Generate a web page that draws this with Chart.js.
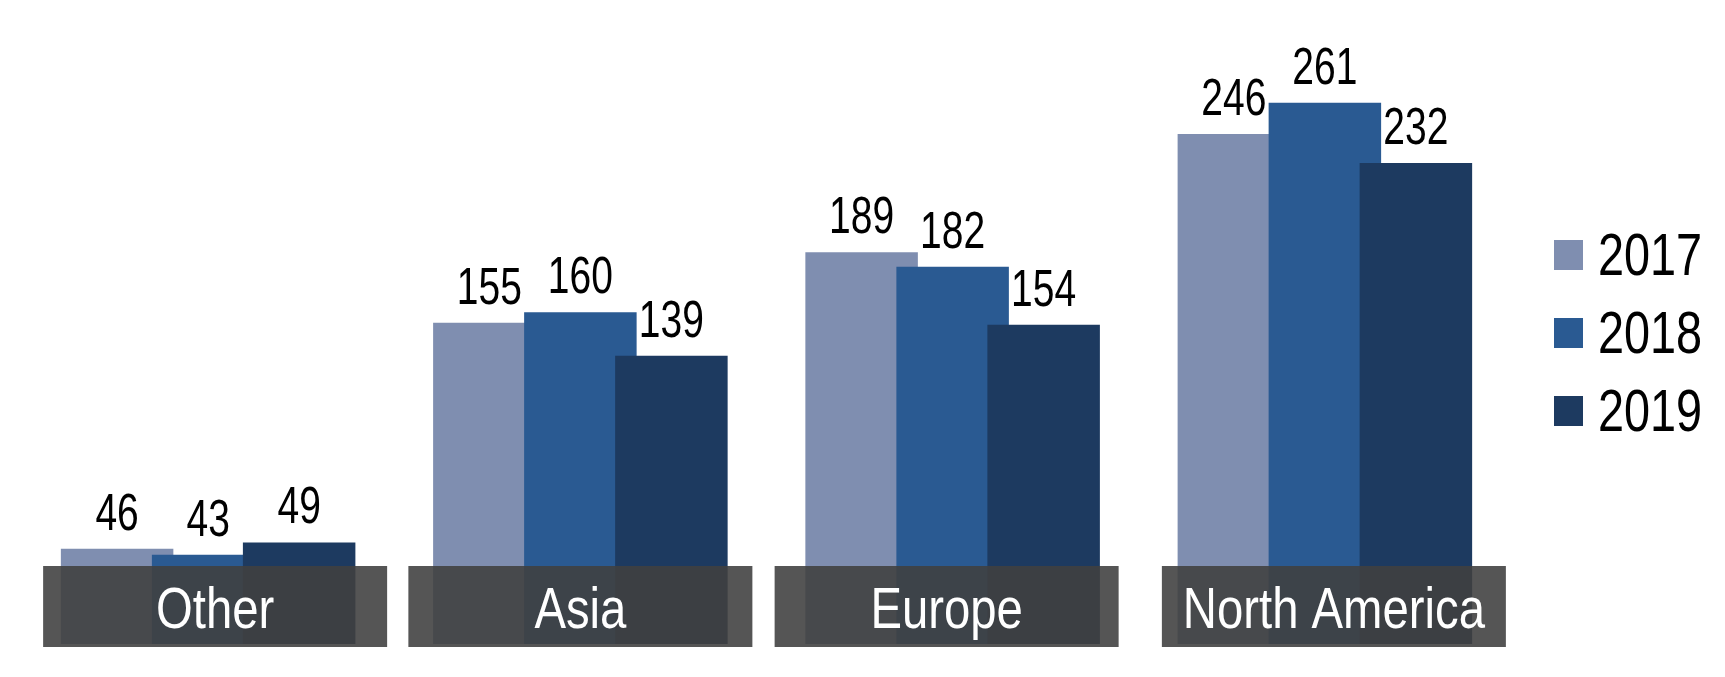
<!DOCTYPE html>
<html>
<head>
<meta charset="utf-8">
<script src="https://cdn.jsdelivr.net/npm/chart.js@4.4.1/dist/chart.umd.min.js"></script>
<style>
  html, body { margin: 0; padding: 0; background: #ffffff; }
  #wrap { width: 1725px; height: 677px; }
</style>
</head>
<body>
<div id="wrap"><canvas id="c" width="1725" height="677"></canvas></div>
<script>
// ---- data ----
const categories = ['Other', 'Asia', 'Europe', 'North America'];
const seriesLabels = ['2017', '2018', '2019'];
const values2017 = [46, 155, 189, 246];
const values2018 = [43, 160, 182, 261];
const values2019 = [49, 139, 154, 232];
const seriesColors = ['#7F8EB0', '#2A5A92', '#1D3A60'];

// ---- style ----
const FONT = "'Liberation Sans', Arial, sans-serif";
const labelBoxNudge = [7, 0, -6, 9]; // horizontal nudge of each category label box (px)

// draw text horizontally condensed (Arial Narrow look)
function narrowText(ctx, text, x, y, size, sx, align) {
  ctx.save();
  ctx.font = size + 'px ' + FONT;
  ctx.textAlign = align;
  ctx.textBaseline = 'alphabetic';
  ctx.translate(x, y);
  ctx.scale(sx, 1);
  ctx.fillText(text, 0, 0);
  ctx.restore();
}

// Draw bars left-to-right so each later series overlaps the earlier one,
// then the category boxes, value labels and legend.
const overlayPlugin = {
  id: 'overlay',
  beforeDatasetDraw() { return false; },
  afterDatasetsDraw(chart) {
    const ctx = chart.ctx;
    const area = chart.chartArea;
    const xs = chart.scales.x, ys = chart.scales.y;

    chart.data.datasets.forEach((ds, i) => {
      const meta = chart.getDatasetMeta(i);
      if (!meta.hidden) meta.controller.draw();
    });

    const base = ys.getPixelForValue(0);
    ctx.save();

    // category label boxes (semi-transparent over bar bottoms)
    chart.data.labels.forEach((cat, i) => {
      const cx = xs.getPixelForValue(i) + (labelBoxNudge[i] || 0);
      ctx.fillStyle = 'rgba(64,64,64,0.89)';
      ctx.fillRect(cx - 172, base - 78, 344, 81);
      ctx.fillStyle = '#ffffff';
      narrowText(ctx, cat, cx, base - 16, 58, 0.815, 'center');
    });

    // value labels
    ctx.fillStyle = '#000000';
    chart.data.datasets.forEach((ds, i) => {
      const meta = chart.getDatasetMeta(i);
      meta.data.forEach((bar, j) => {
        narrowText(ctx, String(ds.data[j]), bar.x, bar.y - 19, 52, 0.75, 'center');
      });
    });

    // legend
    const lx = area.right + 43;
    const midY = (area.top + area.bottom) / 2;
    const n = chart.data.datasets.length;
    chart.data.datasets.forEach((ds, i) => {
      const cy = midY + (i - (n - 1) / 2) * 78;
      ctx.fillStyle = ds.backgroundColor;
      ctx.fillRect(lx, cy - 15, 29, 30);
      ctx.fillStyle = '#000000';
      narrowText(ctx, ds.label, lx + 44, cy + 20, 60, 0.78, 'left');
    });

    ctx.restore();
  }
};

const seriesData = [values2017, values2018, values2019];

new Chart(document.getElementById('c'), {
  type: 'bar',
  data: {
    labels: categories,
    datasets: seriesLabels.map((lab, i) => ({
      label: lab,
      data: seriesData[i],
      backgroundColor: seriesColors[i],
      borderWidth: 0,
      categoryPercentage: 0.7335,
      barPercentage: 1.236
    }))
  },
  options: {
    responsive: false,
    animation: false,
    devicePixelRatio: 1,
    layout: { padding: { left: 22, right: 214, top: 22, bottom: 33 } },
    scales: {
      x: { display: false },
      y: { display: false, min: 0, max: 300 }
    },
    plugins: {
      legend: { display: false },
      tooltip: { enabled: false }
    }
  },
  plugins: [overlayPlugin]
});
</script>
</body>
</html>
